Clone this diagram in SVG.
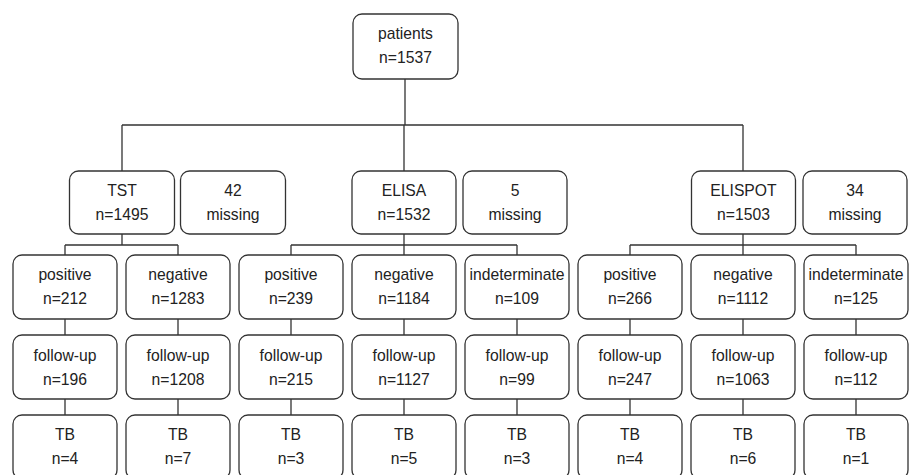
<svg xmlns="http://www.w3.org/2000/svg" width="914" height="475" viewBox="0 0 914 475">
<style>
.b{fill:#fff;stroke:#333;stroke-width:1.3}
.t{font-family:"Liberation Sans",Arial,sans-serif;font-size:15.7px;fill:#222;text-anchor:middle}
.c{fill:none;stroke:#333;stroke-width:1.3}
</style>
<rect width="914" height="475" fill="#fff"/>
<g id="connectors" class="c">
<path d="M405 79V125M122 125H743M122 125V171M404 125V171M743 125V171"/>
<path d="M122 234V245M65 245H178M65 245V255M178 245V255"/>
<path d="M404 234V245M291 245H517M291 245V255M404 245V255M517 245V255"/>
<path d="M743 234V245M630 245H856M630 245V255M743 245V255M856 245V255"/>
<path d="M65 319V335M178 319V335M291 319V335M404 319V335M517 319V335M630 319V335M743 319V335M856 319V335"/>
<path d="M65 399V415M178 399V415M291 399V415M404 399V415M517 399V415M630 399V415M743 399V415M856 399V415"/>
</g>
<g id="patients"><rect class="b" x="353" y="14" width="105" height="65" rx="9"/><text class="t" x="405.5" y="39">patients</text><text class="t" x="405.5" y="63">n=1537</text></g>
<g id="tst"><rect class="b" x="69.5" y="171" width="105" height="63" rx="9"/><text class="t" x="122" y="196">TST</text><text class="t" x="122" y="220">n=1495</text></g>
<g id="tst-missing"><rect class="b" x="180.5" y="171" width="105" height="63" rx="9"/><text class="t" x="233" y="196">42</text><text class="t" x="233" y="220">missing</text></g>
<g id="elisa"><rect class="b" x="352" y="171" width="104" height="63" rx="9"/><text class="t" x="404" y="196">ELISA</text><text class="t" x="404" y="220">n=1532</text></g>
<g id="elisa-missing"><rect class="b" x="463" y="171" width="104" height="63" rx="9"/><text class="t" x="515" y="196">5</text><text class="t" x="515" y="220">missing</text></g>
<g id="elispot"><rect class="b" x="691.5" y="171" width="104" height="63" rx="9"/><text class="t" x="743.5" y="196">ELISPOT</text><text class="t" x="743.5" y="220">n=1503</text></g>
<g id="elispot-missing"><rect class="b" x="803" y="171" width="104" height="63" rx="9"/><text class="t" x="855" y="196">34</text><text class="t" x="855" y="220">missing</text></g>

<g id="tst-pos"><rect class="b" x="13" y="255" width="104" height="64" rx="9"/><text class="t" x="65" y="280">positive</text><text class="t" x="65" y="304">n=212</text></g>
<g id="tst-neg"><rect class="b" x="126" y="255" width="104" height="64" rx="9"/><text class="t" x="178" y="280">negative</text><text class="t" x="178" y="304">n=1283</text></g>
<g id="elisa-pos"><rect class="b" x="239" y="255" width="104" height="64" rx="9"/><text class="t" x="291" y="280">positive</text><text class="t" x="291" y="304">n=239</text></g>
<g id="elisa-neg"><rect class="b" x="352" y="255" width="104" height="64" rx="9"/><text class="t" x="404" y="280">negative</text><text class="t" x="404" y="304">n=1184</text></g>
<g id="elisa-ind"><rect class="b" x="465" y="255" width="104" height="64" rx="9"/><text class="t" x="517" y="280">indeterminate</text><text class="t" x="517" y="304">n=109</text></g>
<g id="elispot-pos"><rect class="b" x="578" y="255" width="104" height="64" rx="9"/><text class="t" x="630" y="280">positive</text><text class="t" x="630" y="304">n=266</text></g>
<g id="elispot-neg"><rect class="b" x="691" y="255" width="104" height="64" rx="9"/><text class="t" x="743" y="280">negative</text><text class="t" x="743" y="304">n=1112</text></g>
<g id="elispot-ind"><rect class="b" x="804" y="255" width="104" height="64" rx="9"/><text class="t" x="856" y="280">indeterminate</text><text class="t" x="856" y="304">n=125</text></g>

<g id="tst-pos-fu"><rect class="b" x="13" y="335" width="104" height="64" rx="9"/><text class="t" x="65" y="361">follow-up</text><text class="t" x="65" y="385">n=196</text></g>
<g id="tst-neg-fu"><rect class="b" x="126" y="335" width="104" height="64" rx="9"/><text class="t" x="178" y="361">follow-up</text><text class="t" x="178" y="385">n=1208</text></g>
<g id="elisa-pos-fu"><rect class="b" x="239" y="335" width="104" height="64" rx="9"/><text class="t" x="291" y="361">follow-up</text><text class="t" x="291" y="385">n=215</text></g>
<g id="elisa-neg-fu"><rect class="b" x="352" y="335" width="104" height="64" rx="9"/><text class="t" x="404" y="361">follow-up</text><text class="t" x="404" y="385">n=1127</text></g>
<g id="elisa-ind-fu"><rect class="b" x="465" y="335" width="104" height="64" rx="9"/><text class="t" x="517" y="361">follow-up</text><text class="t" x="517" y="385">n=99</text></g>
<g id="elispot-pos-fu"><rect class="b" x="578" y="335" width="104" height="64" rx="9"/><text class="t" x="630" y="361">follow-up</text><text class="t" x="630" y="385">n=247</text></g>
<g id="elispot-neg-fu"><rect class="b" x="691" y="335" width="104" height="64" rx="9"/><text class="t" x="743" y="361">follow-up</text><text class="t" x="743" y="385">n=1063</text></g>
<g id="elispot-ind-fu"><rect class="b" x="804" y="335" width="104" height="64" rx="9"/><text class="t" x="856" y="361">follow-up</text><text class="t" x="856" y="385">n=112</text></g>

<g id="tst-pos-tb"><rect class="b" x="13" y="415" width="104" height="64" rx="9"/><text class="t" x="65" y="440">TB</text><text class="t" x="65" y="464">n=4</text></g>
<g id="tst-neg-tb"><rect class="b" x="126" y="415" width="104" height="64" rx="9"/><text class="t" x="178" y="440">TB</text><text class="t" x="178" y="464">n=7</text></g>
<g id="elisa-pos-tb"><rect class="b" x="239" y="415" width="104" height="64" rx="9"/><text class="t" x="291" y="440">TB</text><text class="t" x="291" y="464">n=3</text></g>
<g id="elisa-neg-tb"><rect class="b" x="352" y="415" width="104" height="64" rx="9"/><text class="t" x="404" y="440">TB</text><text class="t" x="404" y="464">n=5</text></g>
<g id="elisa-ind-tb"><rect class="b" x="465" y="415" width="104" height="64" rx="9"/><text class="t" x="517" y="440">TB</text><text class="t" x="517" y="464">n=3</text></g>
<g id="elispot-pos-tb"><rect class="b" x="578" y="415" width="104" height="64" rx="9"/><text class="t" x="630" y="440">TB</text><text class="t" x="630" y="464">n=4</text></g>
<g id="elispot-neg-tb"><rect class="b" x="691" y="415" width="104" height="64" rx="9"/><text class="t" x="743" y="440">TB</text><text class="t" x="743" y="464">n=6</text></g>
<g id="elispot-ind-tb"><rect class="b" x="804" y="415" width="104" height="64" rx="9"/><text class="t" x="856" y="440">TB</text><text class="t" x="856" y="464">n=1</text></g>
</svg>
